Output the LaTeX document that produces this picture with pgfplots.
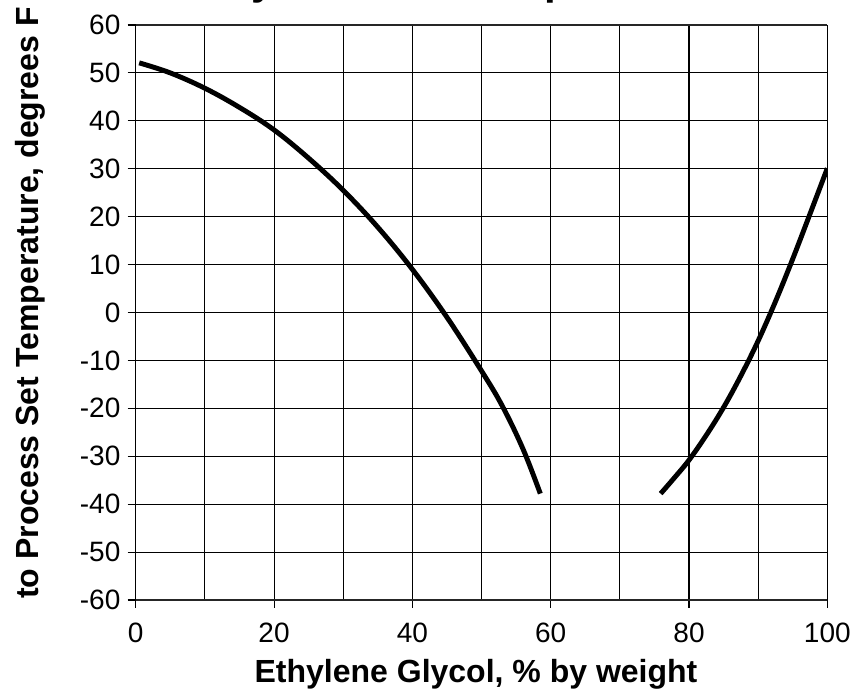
\documentclass[border=0pt]{standalone}
\usepackage{pgfplots}
\pgfplotsset{compat=1.18}
\usepackage{fontspec}
\setmainfont{Liberation Sans}
\begin{document}
\begin{tikzpicture}
\begin{axis}[
  name=ax,
  scale only axis,
  width=518.7pt, height=431.25pt,
  xmin=0, xmax=100, ymin=-60, ymax=60,
  xtick={0,20,...,100},
  minor xtick={10,30,50,70,90},
  ytick={-60,-50,...,60},
  grid=both,
  major grid style={black, line width=0.8pt},
  minor grid style={black, line width=0.8pt},
  minor tick length=0pt,
  tick align=outside,
  xtick pos=bottom, ytick pos=left,
  major tick length=6pt,
  tick style={black, line width=0.8pt},
  separate axis lines,
  x axis line style={line width=1.7pt, black!85},
  y axis line style={line width=1pt, black},
  /pgf/number format/assume math mode=true,
  ticklabel style={font=\fontsize{21}{25}\selectfont},
  xticklabel style={yshift=-8pt},
  yticklabel style={xshift=-2pt},
  xlabel={Ethylene Glycol, \% by weight},
  ylabel={to Process Set Temperature, degrees F},
  every axis x label/.style={at={(axis description cs:0.492,-0.144)}, anchor=base, font=\bfseries\fontsize{24}{28}\selectfont},
  every axis y label/.style={at={(axis description cs:-0.1528,0.5165)}, anchor=center, rotate=90, font=\bfseries\fontsize{24}{28}\selectfont},
  title={by Process Temperature},
  every axis title/.style={at={(axis description cs:0.482,1)}, anchor=base, yshift=23pt, font=\bfseries\fontsize{31.5}{36}\selectfont},
]
\addplot[black, line width=3.7pt, smooth, tension=0.6] coordinates {
  (0.5,52.1) (5,50.0) (10,46.8) (15,42.8) (20,38.1) (25,32.2) (30,25.5)
  (35,17.8) (40,9.0) (45,-1.0) (50,-12.2) (53,-19.5) (56,-28.5) (58.5,-37.8)
};
\addplot[black, line width=3.7pt, smooth, tension=0.6] coordinates {
  (75.9,-37.8) (78,-34.3) (80,-30.8) (82.5,-25.6) (85,-19.8) (87.5,-13.2)
  (90,-5.9) (92.5,2.3) (95,11.2) (97.5,20.6) (100,30.1)
};
\end{axis}
\pgfresetboundingbox
\path[use as bounding box] ([shift={(-101.8pt,-68.25pt)}]ax.south west) rectangle ([shift={(21.5pt,18.75pt)}]ax.north east);
\end{tikzpicture}
\end{document}
